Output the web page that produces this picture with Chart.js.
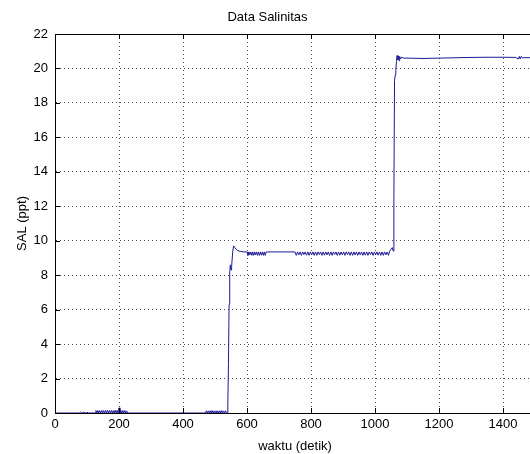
<!DOCTYPE html>
<html>
<head>
<meta charset="utf-8">
<script src="https://cdn.jsdelivr.net/npm/chart.js@4"></script>
<style>
html,body{margin:0;padding:0;background:#fff;overflow:hidden;}
#wrap{width:560px;height:454px;}
</style>
</head>
<body>
<div id="wrap"><canvas id="c" width="560" height="454"></canvas></div>
<script>
const chartTitle = 'Data Salinitas';
const xTitle = 'waktu (detik)';
const yTitle = 'SAL (ppt)';
const xTickValues = [0, 200, 400, 600, 800, 1000, 1200, 1400];
const yTickValues = [0, 2, 4, 6, 8, 10, 12, 14, 16, 18, 20, 22];

const times = [
  0, 76, 78, 80, 84, 86, 88, 96, 98, 100, 104,
  125,128,131,134,137,140,143,146,149,152,155,158,161,164,167,170,173,176,179,182,185,188,191,194,197,200,203,206,209,212,215,218,221,224,227,
  470,473,476,479,482,485,488,491,494,497,500,503,506,509,512,515,518,521,524,527,530,533,536,
  538,540,542,544,546,548,550,552,555,558,562,566,572,580,590,600,
  603,606,609,612,615,618,621,624,627,630,633,636,639,642,645,648,651,654,657,
  660,700,750,
  754,758,762,766,770,774,778,782,
  786,790,794,798,802,806,810,814,
  818,822,826,830,834,838,842,846,
  850,854,858,862,866,870,874,878,
  882,886,890,894,898,902,906,910,
  914,918,922,926,930,934,938,942,
  946,950,954,958,962,966,970,974,
  978,982,986,990,994,998,1002,1006,
  1010,1014,1018,1022,1026,1030,1034,1038,
  1042,
  1046,1050,1054,1057,1059,1061,1063,1065,1067,1069,1071,1073,1075,1077,1080,1083,1090,1100,1150,1200,1250,1300,1350,1400,1440,1448,1451,1454,1457,1460,1500
];
const salinity = [
  0, 0, 0, 0.06, 0, 0, 0.05, 0, 0, 0.05, 0,
  0,0.14,0,0.15,0,0.13,0,0.15,0,0.14,0,0.15,0,0.16,0,0.14,0,0.15,0,0.14,0,0.16,0,0.15,0,0.3,0,0.15,0,0.14,0,0.15,0,0.12,0,
  0,0.13,0,0.12,0,0.13,0,0.14,0,0.12,0,0.13,0,0.12,0,0.13,0,0.14,0,0.12,0,0.13,0,
  0,0.4,2.8,6.3,8.2,8.6,8.3,8.5,9.3,9.7,9.6,9.5,9.42,9.38,9.35,9.35,
  9.15,9.35,9.18,9.35,9.15,9.35,9.15,9.35,9.17,9.35,9.15,9.35,9.15,9.35,9.16,9.35,9.15,9.35,9.15,
  9.35,9.35,9.35,
  9.15,9.35,9.18,9.35,9.15,9.35,9.2,9.35,
  9.16,9.35,9.15,9.35,9.18,9.35,9.15,9.35,
  9.15,9.35,9.2,9.35,9.15,9.35,9.16,9.35,
  9.18,9.35,9.15,9.35,9.15,9.35,9.2,9.35,
  9.15,9.35,9.16,9.35,9.18,9.35,9.15,9.35,
  9.2,9.35,9.15,9.35,9.15,9.35,9.17,9.35,
  9.15,9.35,9.18,9.35,9.15,9.35,9.16,9.35,
  9.15,9.35,9.2,9.35,9.15,9.35,9.18,9.35,
  9.16,9.35,9.15,9.35,9.15,9.35,9.18,9.35,
  9.15,
  9.4,9.5,9.6,9.4,12.5,19.3,19.6,19.9,20.4,20.75,20.5,20.7,20.45,20.7,20.55,20.65,20.6,20.6,20.58,20.6,20.62,20.64,20.65,20.65,20.64,20.55,20.7,20.55,20.7,20.62,20.63
];

const points = times.map((t, i) => ({x: t, y: salinity[i]}));
const FONT = {family: '"Liberation Sans", Arial, sans-serif', size: 13};

const innerTicks = {
  id: 'innerTicks',
  afterDraw(chart) {
    const {ctx, chartArea: a, scales: {x, y}} = chart;
    ctx.save();
    ctx.strokeStyle = '#000';
    ctx.lineWidth = 1;
    ctx.beginPath();
    ctx.moveTo(a.left, Math.round(a.top) + 0.5);
    ctx.lineTo(a.right, Math.round(a.top) + 0.5);
    xTickValues.forEach(v => {
      const px = Math.round(x.getPixelForValue(v)) + 0.5;
      ctx.moveTo(px, a.bottom); ctx.lineTo(px, a.bottom - 5);
      ctx.moveTo(px, a.top); ctx.lineTo(px, a.top + 5);
    });
    yTickValues.forEach(v => {
      const py = Math.round(y.getPixelForValue(v)) + 0.5;
      ctx.moveTo(a.left, py); ctx.lineTo(a.left + 5, py);
    });
    ctx.stroke();
    ctx.restore();
  }
};

new Chart(document.getElementById('c'), {
  type: 'line',
  data: {
    datasets: [{
      data: points,
      borderColor: '#1a1a96',
      borderWidth: 1,
      pointRadius: 0,
      tension: 0,
      fill: false
    }]
  },
  options: {
    responsive: false,
    animation: false,
    parsing: false,
    layout: {padding: {left: 0, right: 25, top: 0, bottom: 0}},
    plugins: {
      legend: {display: false},
      tooltip: {enabled: false},
      title: {
        display: true,
        text: chartTitle,
        color: '#000',
        font: {family: FONT.family, size: 13, weight: 'normal'},
        padding: {top: 10, bottom: 8.4}
      }
    },
    scales: {
      x: {
        type: 'linear',
        min: 0,
        max: 1500,
        afterBuildTicks(scale) { scale.ticks = xTickValues.map(v => ({value: v})); },
        afterFit(scale) { scale.height = 41; },
        ticks: {color: '#000', font: FONT, padding: 4, maxRotation: 0, autoSkip: false,
                callback: v => String(v)},
        grid: {color: 'rgba(0,0,0,0.7)', lineWidth: 1, drawTicks: false, tickLength: 0},
        border: {display: true, color: '#000', width: 1, dash: [1, 3]},
        title: {display: true, text: xTitle, color: '#000', font: FONT, padding: {top: 0, bottom: 0}}
      },
      y: {
        type: 'linear',
        min: 0,
        max: 22,
        afterBuildTicks(scale) { scale.ticks = yTickValues.map(v => ({value: v})); },
        afterFit(scale) { scale.width = 55; },
        ticks: {color: '#000', font: FONT, padding: 7, autoSkip: false,
                callback: v => String(v)},
        grid: {color: 'rgba(0,0,0,0.7)', lineWidth: 1, drawTicks: false, tickLength: 0},
        border: {display: true, color: '#000', width: 1, dash: [1, 3]},
        title: {display: true, text: yTitle, color: '#000', font: FONT, padding: {top: 15, bottom: 0}}
      }
    }
  },
  plugins: [innerTicks]
});
</script>
</body>
</html>
